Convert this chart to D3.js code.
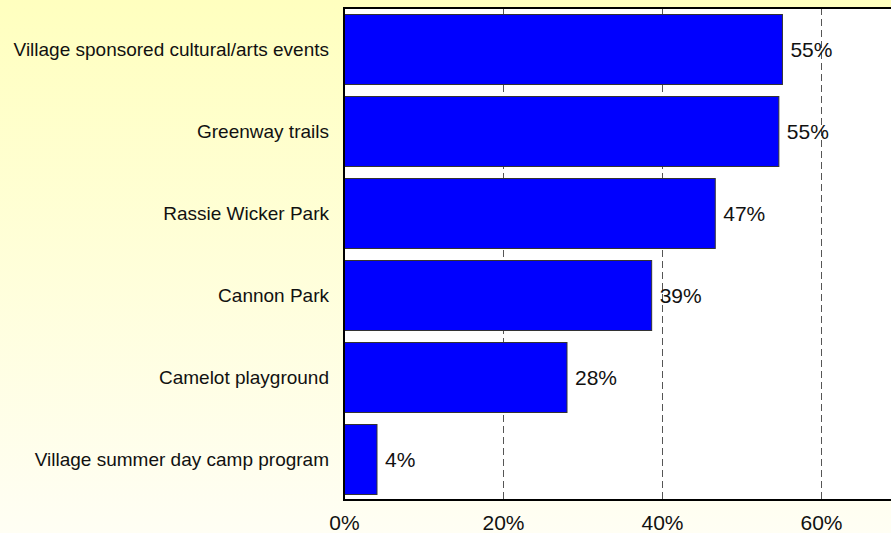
<!DOCTYPE html>
<html>
<head>
<meta charset="utf-8">
<script src="https://cdn.jsdelivr.net/npm/d3@7"></script>
<style>
  html, body { margin: 0; padding: 0; background: #fff; }
  svg { display: block; font-family: "Liberation Sans", Arial, sans-serif; }
</style>
</head>
<body>
<svg id="chart" width="891" height="533"></svg>
<script>
// Share of respondents using each village amenity / program
const categories = [
  "Village sponsored cultural/arts events",
  "Greenway trails",
  "Rassie Wicker Park",
  "Cannon Park",
  "Camelot playground",
  "Village summer day camp program"
];
const values = [55.15, 54.7, 46.7, 38.7, 28.05, 4.15];
const tickValues = [0, 20, 40, 60];
const tickLabels = ["0%", "20%", "40%", "60%"];

const W = 891, H = 533;
const plot = { left: 344, top: 8, bottom: 500 };
const pxPerPct = 7.95;

const svg = d3.select("#chart");

// page background: soft yellow fading downwards
const defs = svg.append("defs");
const grad = defs.append("linearGradient")
  .attr("id", "bg").attr("x1", 0).attr("y1", 0).attr("x2", 0).attr("y2", 1);
grad.append("stop").attr("offset", "0%").attr("stop-color", "#ffffbf");
grad.append("stop").attr("offset", "100%").attr("stop-color", "#fffef4");
svg.append("rect").attr("width", W).attr("height", H).attr("fill", "url(#bg)");

const xMax = 70;
const x = d3.scaleLinear().domain([0, xMax]).range([plot.left, plot.left + xMax * pxPerPct]);
const y = d3.scaleBand().domain(categories)
  .range([plot.top, plot.bottom])
  .paddingInner(0.146).paddingOuter(0.073);

// white plotting area
svg.append("rect")
  .attr("x", plot.left).attr("y", plot.top)
  .attr("width", W - plot.left + 5).attr("height", plot.bottom - plot.top)
  .attr("fill", "#fff");

// dashed vertical gridlines
svg.append("g").selectAll("line")
  .data(tickValues.filter(d => d > 0))
  .join("line")
  .attr("x1", d => Math.round(x(d)) + 0.5).attr("x2", d => Math.round(x(d)) + 0.5)
  .attr("y1", plot.top).attr("y2", plot.bottom)
  .attr("stroke", "#555").attr("stroke-width", 1)
  .attr("stroke-dasharray", "7,4");

// bars
const rows = categories.map((c, i) => ({ c, v: values[i] }));
svg.append("g").selectAll("rect")
  .data(rows)
  .join("rect")
  .attr("x", x(0)).attr("y", d => Math.round(y(d.c)) + 0.5)
  .attr("width", d => x(d.v) - x(0))
  .attr("height", Math.round(y.bandwidth()))
  .attr("fill", "#0000ff")
  .attr("stroke", "#333").attr("stroke-width", 1);

// value labels
const fmt = d => d3.format(".0f")(d) + "%";
svg.append("g").selectAll("text")
  .data(rows)
  .join("text")
  .attr("x", d => x(d.v) + 8)
  .attr("y", d => y(d.c) + y.bandwidth() / 2)
  .attr("dy", "0.36em")
  .attr("font-size", 21)
  .attr("fill", "#111")
  .text(d => fmt(d.v));

// category labels
svg.append("g").selectAll("text")
  .data(categories)
  .join("text")
  .attr("x", plot.left - 15)
  .attr("y", d => y(d) + y.bandwidth() / 2)
  .attr("dy", "0.36em")
  .attr("text-anchor", "end")
  .attr("font-size", 19)
  .attr("fill", "#111")
  .text(d => d);

// x axis tick labels
const xAxis = d3.axisBottom(x)
  .tickValues(tickValues)
  .tickFormat((d, i) => tickLabels[i])
  .tickSize(0).tickPadding(0);
const gx = svg.append("g").attr("transform", `translate(0,${plot.bottom})`).call(xAxis);
gx.select(".domain").remove();
gx.selectAll("text")
  .attr("font-size", 21)
  .attr("font-family", "'Liberation Sans', Arial, sans-serif")
  .attr("fill", "#111")
  .attr("dy", null)
  .attr("y", 30);

// frame: top, left and bottom edges
const frame = svg.append("g").attr("stroke", "#000").attr("stroke-width", 2);
frame.append("line").attr("x1", plot.left).attr("x2", W).attr("y1", plot.top).attr("y2", plot.top);
frame.append("line").attr("x1", plot.left).attr("x2", plot.left).attr("y1", plot.top - 1).attr("y2", plot.bottom + 1);
frame.append("line").attr("x1", plot.left).attr("x2", W).attr("y1", plot.bottom).attr("y2", plot.bottom);
</script>
</body>
</html>
